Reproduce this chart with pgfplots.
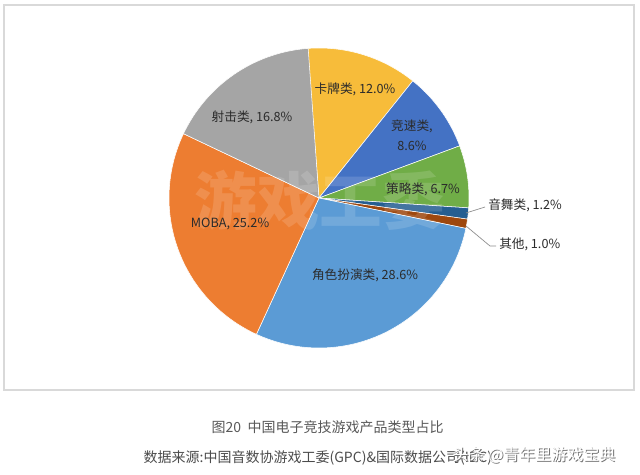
\documentclass[border=0pt]{standalone}
\usepackage{pgfplots}
\pgfplotsset{compat=1.18}
\usepackage{fontspec}
\setmainfont{Noto Sans CJK SC}
\definecolor{cYel}{HTML}{F7BC3A}
\definecolor{cBlu}{HTML}{4472C4}
\definecolor{cGrn}{HTML}{70AD47}
\definecolor{cDBl}{HTML}{255E91}
\definecolor{cBrn}{HTML}{9E480E}
\definecolor{cLBl}{HTML}{5B9BD5}
\definecolor{cOrg}{HTML}{ED7D31}
\definecolor{cGry}{HTML}{A5A5A5}
\definecolor{txt}{HTML}{2B2B2B}
\xdef\A{94.5}
\newcommand\slice[2]{%
  \pgfmathsetmacro{\B}{\A-3.6*#1}%
  \edef\temp{\noexpand\addplot[fill=#2, draw=white, line width=0.4pt, domain=\B:\A, samples=80, variable=\noexpand\t] ({319+150*cos(\noexpand\t)},{-198+150*sin(\noexpand\t)}) -- (axis cs:319,-198) -- cycle;}%
  \temp
  \global\let\A\B
}
\begin{document}
\begin{tikzpicture}
\begin{axis}[width=480pt, height=356.25pt, scale only axis, xmin=0, xmax=640, ymin=-475, ymax=0, hide axis, clip=false]
\fill[white] (axis cs:0,0) rectangle (axis cs:640,-475);
\draw[color=black!15, line width=1.2pt] (axis cs:4,-5) rectangle (axis cs:634,-390);
% slices: value (%), colour
\slice{12.0}{cYel}
\slice{8.6}{cBlu}
\slice{6.7}{cGrn}
\slice{1.2}{cDBl}
\slice{1.0}{cBrn}
\slice{28.6}{cLBl}
\slice{25.2}{cOrg}
\slice{16.8}{cGry}
% watermark
\node[text=white, opacity=0.14, font=\fontsize{47}{50}\selectfont\bfseries] at (axis cs:320,-200) {游戏工委};
% labels
\begin{scope}[every node/.style={text=txt, font=\fontsize{9.5}{13}\selectfont, inner sep=0pt}]
\node at (axis cs:355,-89) {卡牌类, 12.0\%};
\node at (axis cs:252,-117) {射击类, 16.8\%};
\node[align=center] at (axis cs:412,-135) {竞速类,\\[2pt]8.6\%};
\node at (axis cs:423,-189) {策略类, 6.7\%};
\node at (axis cs:230,-224) {MOBA, 25.2\%};
\node at (axis cs:365,-275) {角色扮演类, 28.6\%};
\node[anchor=west] at (axis cs:488,-205) {音舞类, 1.2\%};
\node[anchor=west] at (axis cs:499,-244) {其他, 1.0\%};
\end{scope}
\draw[black!45, line width=0.5pt] (axis cs:466,-213) -- (axis cs:485,-207);
\draw[black!45, line width=0.5pt] (axis cs:466,-226) -- (axis cs:490,-246) -- (axis cs:496,-246);
% caption
\node[text=black!65, font=\fontsize{10.5}{12}\selectfont, anchor=west] at (axis cs:207,-427) {图20\ \ 中国电子竞技游戏产品类型占比};
\node[text=black!70, font=\fontsize{10.5}{12}\selectfont, anchor=west] at (axis cs:139,-458) {数据来源:中国音数协游戏工委(GPC)\&国际数据公司(IDC)};
\node[text=black!55, font=\fontsize{12}{14}\selectfont, anchor=west] at (axis cs:449,-456) {头条 @青年里游戏宝典};
\node[text=white, font=\fontsize{12}{14}\selectfont, anchor=west] at (axis cs:448,-455) {头条 @青年里游戏宝典};
\end{axis}
\end{tikzpicture}
\end{document}
